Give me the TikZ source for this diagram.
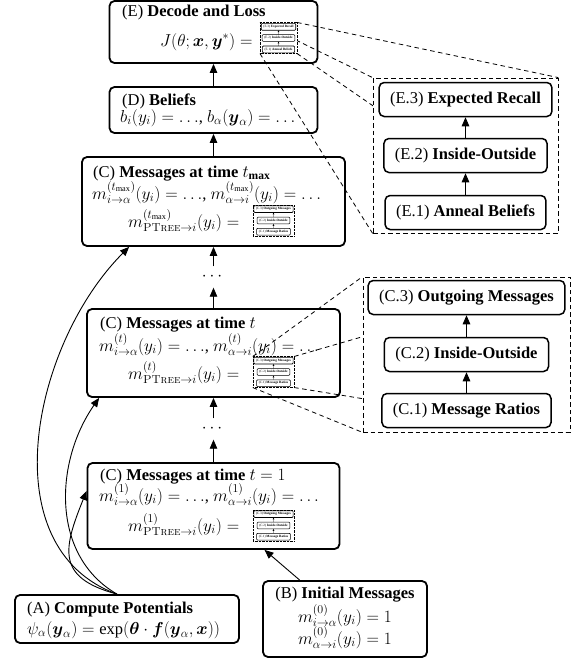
\documentclass[tikz,border=0pt]{standalone}
\usepackage{fontspec}
\setmainfont{Liberation Serif}
\usepackage{amsmath}
\usetikzlibrary{arrows.meta,backgrounds,calc}
\newcommand{\ptree}{\text{\fontfamily{lmr}\selectfont\scshape PTree}}
\tikzset{
  mainbox/.style={draw, line width=1.8pt, rounded corners=5pt, inner sep=0pt},
  txt/.style={inner sep=0pt, anchor=base west},
  ctxt/.style={inner sep=0pt, anchor=base},
  subbox/.style={draw, line width=1.5pt, rounded corners=5pt, inner xsep=11pt, inner ysep=0pt, minimum height=34pt},
  pframe/.style={draw, dash pattern=on 4.5pt off 3pt, line width=0.8pt, fill=white, inner sep=0pt},
  arr/.style={-{Triangle[length=9pt,width=7.5pt]}, line width=0.9pt},
  zline/.style={dash pattern=on 4.5pt off 3.5pt, line width=0.8pt},
  dotsnode/.style={inner sep=0pt, minimum height=21pt, minimum width=20pt},
  icon/.style={scale=0.2, transform shape,
     pframe/.style={draw, dash pattern=on 0.7pt off 0.7pt, line width=0.45pt, fill=white, inner sep=0pt},
     subbox/.append style={line width=0.6pt, rounded corners=1pt},
     arr/.style={-{Triangle[length=1.8pt,width=1.5pt]}, line width=0.35pt}},
  epanel/.pic={
    \node[pframe, minimum width=185pt, minimum height=155pt] (-frame) at (0,0) {};
    \node[subbox] (-1) at (0,-57) {(E.1) \textbf{Anneal Beliefs}};
    \node[subbox] (-2) at (0,0) {(E.2) \textbf{Inside-Outside}};
    \node[subbox] (-3) at (0,56) {(E.3) \textbf{Expected Recall}};
    \draw[arr] (-1) -- (-2);
    \draw[arr] (-2) -- (-3);
  },
  cpanel/.pic={
    \node[pframe, minimum width=207pt, minimum height=155pt] (-frame) at (0,0) {};
    \node[subbox] (-1) at (0,-56) {(C.1) \textbf{Message Ratios}};
    \node[subbox] (-2) at (0,0) {(C.2) \textbf{Inside-Outside}};
    \node[subbox] (-3) at (0,57) {(C.3) \textbf{Outgoing Messages}};
    \draw[arr] (-1) -- (-2);
    \draw[arr] (-2) -- (-3);
  }
}
\begin{document}
\begin{tikzpicture}[x=1pt,y=1pt,
  every node/.style={font=\fontsize{16.5}{19.8}\selectfont}]
\useasboundingbox (0,0) rectangle (576,-659);

% (E)
\node[mainbox, minimum width=208pt, minimum height=62pt] (E) at (213.5,-32) {};
\node[txt] (Et1) at (122,-16) {(E) \textbf{Decode and Loss}};
\node[txt] (Et2) at (160,-46) {$J(\theta;\boldsymbol{x},\boldsymbol{y}^*) =$};
\pic[icon] (eicon) at (278.5,-38) {epanel};

% (D)
\node[mainbox, minimum width=208pt, minimum height=46pt] (D) at (213.5,-110) {};
\node[txt] (Dt1) at (122,-105) {(D) \textbf{Beliefs}};
\node[txt] (Dt2) at (120,-122) {$b_i(y_i) = \ldots$, $b_\alpha(\boldsymbol{y}_\alpha) = \ldots$};

% (C) tmax
\node[mainbox, minimum width=263pt, minimum height=89pt] (Cm) at (213.5,-201.5) {};
\node[txt] (Cmt1) at (93,-177) {(C) \textbf{Messages at time} $t_{\textbf{max}}$};
\node[txt] (Cmt2) at (92,-199) {$m^{(t_{\max})}_{i\to\alpha}(y_i) = \ldots$, $m^{(t_{\max})}_{\alpha\to i}(y_i) = \ldots$};
\node[txt] (Cmt3) at (128,-227) {$m^{(t_{\max})}_{\ptree\to i}(y_i) =$};
\pic[icon] (cmicon) at (273.5,-220.5) {cpanel};

\node[dotsnode] (dots1) at (213.5,-277) {$\cdots$};

% (C) t
\node[mainbox, minimum width=253pt, minimum height=88pt] (Ct) at (213.5,-353) {};
\node[txt] (Ctt1) at (100,-328) {(C) \textbf{Messages at time} $t$};
\node[txt] (Ctt2) at (99,-351) {$m^{(t)}_{i\to\alpha}(y_i) = \ldots$, $m^{(t)}_{\alpha\to i}(y_i) = \ldots$};
\node[txt] (Ctt3) at (128,-379) {$m^{(t)}_{\ptree\to i}(y_i) =$};
\pic[icon] (cticon) at (273.5,-372) {cpanel};

\node[dotsnode] (dots2) at (213.5,-429) {$\cdots$};

% (C) t=1
\node[mainbox, minimum width=252pt, minimum height=86pt] (C1) at (213.5,-506) {};
\node[txt] (C1t1) at (100,-480) {(C) \textbf{Messages at time} $t=1$};
\node[txt] (C1t2) at (99,-501) {$m^{(1)}_{i\to\alpha}(y_i) = \ldots$, $m^{(1)}_{\alpha\to i}(y_i) = \ldots$};
\node[txt] (C1t3) at (128,-531) {$m^{(1)}_{\ptree\to i}(y_i) =$};
\pic[icon] (c1icon) at (273.5,-525.5) {cpanel};

% (A)
\node[mainbox, minimum width=224pt, minimum height=48pt] (A) at (127,-619) {};
\node[txt] (At1) at (27,-613) {(A) \textbf{Compute Potentials}};
\node[txt] (At2) at (27,-634) {$\psi_\alpha(\boldsymbol{y}_\alpha) = \exp(\boldsymbol{\theta}\cdot\boldsymbol{f}(\boldsymbol{y}_\alpha,\boldsymbol{x}))$};

% (B)
\node[mainbox, minimum width=164pt, minimum height=76pt] (B) at (345,-619) {};
\node[ctxt] (Bt1) at (345,-598) {(B) \textbf{Initial Messages}};
\node[ctxt] (Bt2) at (345,-622) {$m^{(0)}_{i\to\alpha}(y_i) = 1$};
\node[ctxt] (Bt3) at (345,-644) {$m^{(0)}_{\alpha\to i}(y_i) = 1$};

% expanded panels
\pic (epanel) at (465.5,-155.5) {epanel};
\pic (cpanel) at (466.5,-354.5) {cpanel};

\begin{pgfonlayer}{background}
\foreach \c in {north west, north east, south west, south east} {
  \draw[zline] (eicon-frame.\c) -- (epanel-frame.\c);
  \draw[zline] (cticon-frame.\c) -- (cpanel-frame.\c);
}
\end{pgfonlayer}

% arrows
\draw[arr] (D) -- (E);
\draw[arr] (Cm) -- (D);
\draw[arr] (dots1) -- (Cm);
\draw[arr] (Ct) -- (dots1);
\draw[arr] (dots2) -- (Ct);
\draw[arr] (C1) -- (dots2);
\draw[arr] (B) -- (C1);
\draw[arr] ([xshift=-10pt]A.north) to[out=160,in=225] ([xshift=48pt]Cm.south west);
\draw[arr] ([xshift=-10pt]A.north) to[out=150,in=235] ([xshift=13pt]Ct.south west);
\draw[arr] ([xshift=-10pt]A.north) to[out=165,in=248,looseness=1.5] ([yshift=15pt]C1.west);
\end{tikzpicture}
\end{document}
